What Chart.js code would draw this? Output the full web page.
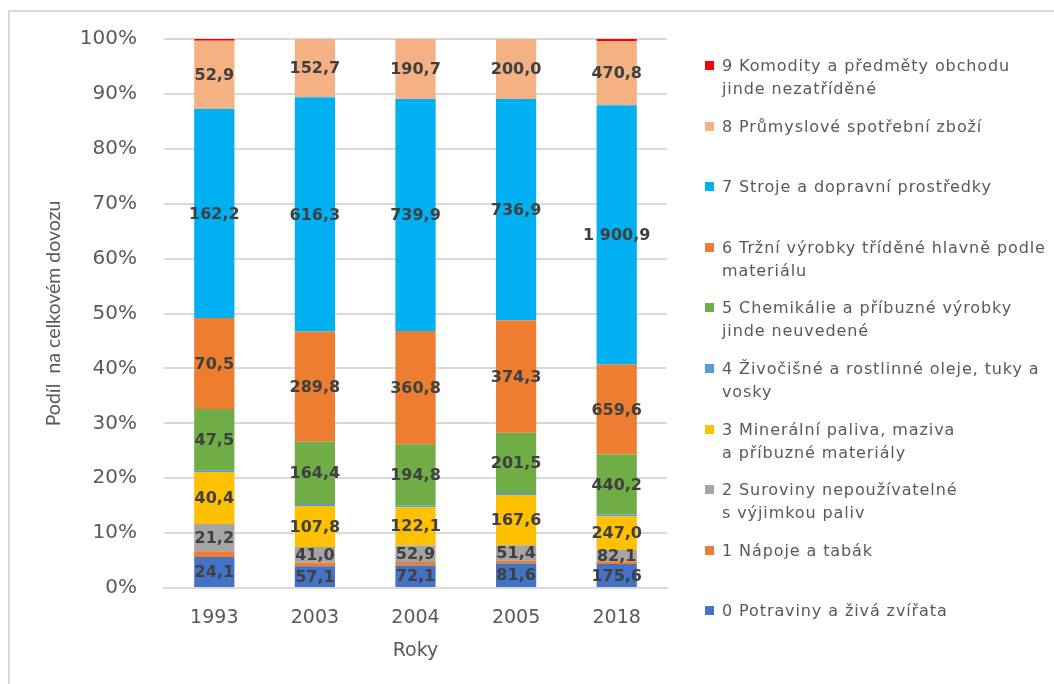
<!DOCTYPE html>
<html>
<head>
<meta charset="utf-8">
<script src="https://cdn.jsdelivr.net/npm/chart.js@4.4.1/dist/chart.umd.min.js"></script>
<style>
    body { margin: 0; background: #fff; overflow: hidden; }
    #wrap { position: relative; width: 1054px; height: 684px; }
    #frame {
        position: absolute; left: 8px; top: 10px;
        width: 1100px; height: 700px;
        border: 2px solid #d9d9d9;
    }
    #chart { position: absolute; left: 0; top: 0; }
    #legend { position: absolute; left: 704px; top: 0; }
    .leg-item {
        position: absolute; left: 0; width: 350px;
        font-family: "DejaVu Sans", sans-serif; font-size: 16px;
        letter-spacing: 0.9px;
        line-height: 23px; color: #595959;
    }
    .leg-box {
        position: absolute; left: 1px; top: 7px; width: 9px; height: 9px;
    }
    .leg-text { margin-left: 18px; }
</style>
</head>
<body>
<div id="wrap">
    <div id="frame"></div>
    <canvas id="chart" width="1054" height="684"></canvas>
    <div id="legend"></div>
</div>
<script>
// ======================================================
// DATA (mld. Kč, hodnoty popisků; nepopsané kategorie odhadnuty)
// ======================================================
const years = ["1993", "2003", "2004", "2005", "2018"];

const potraviny   = [24.1, 57.1, 72.1, 81.6, 175.6];
const napoje      = [4.3, 10.0, 10.5, 9.5, 20.5];
const suroviny    = [21.2, 41.0, 52.9, 51.4, 82.1];
const paliva      = [40.4, 107.8, 122.1, 167.6, 247.0];
const oleje       = [1.3, 4.8, 5.5, 6.0, 13.5];
const chemikalie  = [47.5, 164.4, 194.8, 201.5, 440.2];
const trzniVyrobky = [70.5, 289.8, 360.8, 374.3, 659.6];
const stroje      = [162.2, 616.3, 739.9, 736.9, 1900.9];
const spotrebni   = [52.9, 152.7, 190.7, 200.0, 470.8];
const komodity    = [1.3, 0.5, 0.4, 0.3, 14.0];

const seriesNames = [
    ["0 Potraviny a živá zvířata"],
    ["1 Nápoje a tabák"],
    ["2 Suroviny nepoužívatelné", "s výjimkou paliv"],
    ["3 Minerální paliva, maziva", "a příbuzné materiály"],
    ["4 Živočišné a rostlinné oleje, tuky a", "vosky"],
    ["5 Chemikálie a příbuzné výrobky", "jinde neuvedené"],
    ["6 Tržní výrobky tříděné hlavně podle", "materiálu"],
    ["7 Stroje a dopravní prostředky"],
    ["8 Průmyslové spotřební zboží"],
    ["9 Komodity a předměty obchodu", "jinde nezatříděné"]
];
const seriesValues = [potraviny, napoje, suroviny, paliva, oleje,
    chemikalie, trzniVyrobky, stroje, spotrebni, komodity];
const seriesColors = ["#4472C4", "#ED7D31", "#A5A5A5", "#FFC000", "#5B9BD5",
    "#70AD47", "#ED7D31", "#00B0F0", "#F4B183", "#FF0000"];
const seriesLabeled = [true, false, true, true, false, true, true, true, true, false];

// ======================================================
// 100 % STACK
// ======================================================
const totals = years.map((_, j) => seriesValues.reduce((s, arr) => s + arr[j], 0));

function fmtCz(v) {
    const [int, dec] = v.toFixed(1).split(".");
    return int.replace(/\B(?=(\d{3})+(?!\d))/g, "\u00a0") + "," + dec;
}

const datasets = seriesValues.map((arr, i) => ({
    label: seriesNames[i].join(" "),
    data: arr.map((v, j) => v / totals[j] * 100),
    raw: arr,
    showValue: seriesLabeled[i],
    backgroundColor: seriesColors[i],
    borderWidth: 0,
    barPercentage: 0.4,
    categoryPercentage: 1.0
}));

// popisky hodnot uprostřed segmentů
const valueLabels = {
    id: "valueLabels",
    afterDatasetsDraw(chart) {
        const ctx = chart.ctx;
        ctx.save();
        ctx.font = "bold 16px 'DejaVu Sans', sans-serif";
        ctx.fillStyle = "#404040";
        ctx.textAlign = "center";
        ctx.textBaseline = "middle";
        chart.data.datasets.forEach((ds, i) => {
            if (!ds.showValue) return;
            chart.getDatasetMeta(i).data.forEach((bar, j) => {
                ctx.fillText(fmtCz(ds.raw[j]), bar.x, (bar.y + bar.base) / 2 + 1);
            });
        });
        ctx.restore();
    }
};

new Chart(document.getElementById("chart"), {
    type: "bar",
    data: { labels: years, datasets: datasets },
    options: {
        responsive: false,
        animation: false,
        layout: { padding: { left: 38, top: 37, right: 387, bottom: 18 } },
        plugins: {
            legend: { display: false },
            tooltip: { enabled: false }
        },
        scales: {
            x: {
                stacked: true,
                grid: { display: false, drawTicks: false },
                border: { color: "#d9d9d9", width: 2 },
                ticks: {
                    color: "#595959",
                    padding: 19,
                    font: { family: "DejaVu Sans", size: 19 }
                },
                title: {
                    display: true, text: "Roky", color: "#595959",
                    font: { family: "DejaVu Sans", size: 19 }
                },
                afterFit(scale) { scale.height = 78; }
            },
            y: {
                stacked: true,
                min: 0, max: 100,
                grid: { color: "#d9d9d9", lineWidth: 2, drawTicks: false },
                border: { display: false },
                ticks: {
                    stepSize: 10,
                    color: "#595959",
                    padding: 27,
                    font: { family: "DejaVu Sans", size: 20 },
                    callback: v => v + "%"
                },
                title: {
                    display: true, text: "Podíl  na celkovém dovozu", color: "#595959",
                    font: { family: "Lato", size: 19.5 }
                },
                afterFit(scale) { scale.width = 126; }
            }
        }
    },
    plugins: [valueLabels]
});

// ======================================================
// LEGENDA (vpravo, od 9 dolů k 0)
// ======================================================
const legend = document.getElementById("legend");
for (let i = seriesNames.length - 1; i >= 0; i--) {
    const row = 9 - i;
    const item = document.createElement("div");
    item.className = "leg-item";
    item.style.top = (54 + row * 60.6) + "px";
    item.innerHTML = `
        <span class="leg-box" style="background:${seriesColors[i]}"></span>
        <div class="leg-text">${seriesNames[i].join("<br>")}</div>
    `;
    legend.appendChild(item);
}
</script>
</body>
</html>
